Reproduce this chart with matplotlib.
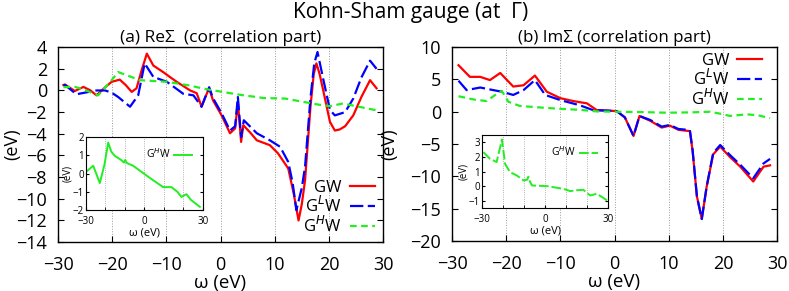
import numpy as np
import matplotlib
matplotlib.use('Agg')
import matplotlib.pyplot as plt

plt.rcParams['font.family'] = ['Open Sans', 'DejaVu Sans']
plt.rcParams['mathtext.fontset'] = 'dejavusans'

# ---- (a) Re Sigma ----
re_gw_w = [-29, -28.7, -26.9, -25.3, -24, -22.9, -21.5, -20.1, -18.6, -17.5, -16.4, -15.5,
           -14.6, -13.6, -12.4, -10.6, -8.1, -5.6, -4.4, -3.5, -2.8, -2.1, -1.4, 0.2, 1.75,
           2.7, 3.2, 3.8, 4.2, 5.5, 6.7, 9.1, 10.6, 12.5, 13.5, 14.4, 15.0, 15.6, 16.6, 17.2,
           17.7, 18.3, 19.0, 20.2, 21.1, 22.0, 23.0, 24.5, 26.0, 27.6, 28.8]
re_gw = [0.5, 0.55, -0.05, 0.33, 0.0, -0.45, 0.2, 0.8, 1.0, 0.5, -0.13, 0.2,
         1.8, 3.4, 2.3, 1.7, 0.8, 0.0, -0.25, -1.5, -0.6, 0.2, -0.9, -2.3, -3.95,
         -3.5, -1.05, -4.75, -3.2, -3.9, -4.6, -5.05, -5.8, -7.2, -9.5, -12.0, -10.5, -8.3, -1.5, 1.5,
         2.5, 1.5, -0.1, -2.9, -3.7, -3.6, -3.3, -2.3, -0.6, 0.95, 0.2]

re_gl_w = [-29, -28.7, -26.6, -22.9, -21.3, -20.1, -18.9, -16.7, -15.2, -14.0, -12.4, -9.9,
           -6.9, -5.0, -3.5, -2.1, -1.4, 0.2, 1.75, 2.7, 3.2, 3.8, 4.3, 6.7, 9.1, 11.0,
           12.5, 13.3, 14.0, 15.0, 15.6, 16.6, 17.3, 17.9, 19.0, 20.2, 21.1, 23.0, 24.5,
           26.0, 27.6, 28.8]
re_gl = [0.5, 0.5, -0.35, 0.0, 0.0, -0.2, -0.6, -1.5, -0.45, 2.5, 1.25, 0.8,
         -0.3, -0.45, -1.5, 0.3, -0.7, -2.1, -3.7, -3.3, -0.6, -4.3, -2.75, -3.95, -4.6, -5.2,
         -6.6, -8.5, -11.05, -9.0, -7.05, -0.7, 2.5, 3.55, 0.95, -1.8, -2.3, -2.0, -0.75,
         1.2, 2.75, 2.0]

re_gh_w = [-29, -27, -25.3, -22.6, -20.1, -18.9, -17, -14.9, -9.9, -5.6, -3, 0, 3.6, 8,
           12, 14.7, 18, 20.2, 22.6, 25, 29]
re_gh = [0.3, 0.35, 0.1, -0.45, 0.95, 1.7, 1.35, 0.95, 0.8, 0.45, 0.15, -0.1, -0.4, -0.7,
         -0.75, -1.0, -1.3, -1.45, -1.2, -1.45, -1.85]

# inset (a)
ins_a_w = [-29.7, -26.3, -22.9, -20.5, -18.6, -17, -15.2, -12, -10.5, -9.8, -9.2, -8.5, -5.8,
           1.0, 5, 9.6, 13.9, 17, 19.0, 21.6, 24, 28.5]
ins_a = [0.12, 0.43, -0.52, 0.5, 1.7, 1.2, 0.97, 0.75, 0.6, 0.75, 0.6, 0.55, 0.43,
         -0.1, -0.4, -0.74, -0.74, -1.0, -1.28, -1.13, -1.45, -1.82]

# ---- (b) Im Sigma ----
im_gw_w = [-28.8, -26.7, -24.8, -23.0, -21.1, -18.7, -16.8, -14.7, -12.5, -10.0, -7.6, -5.1,
           -3.3, -0.8, 0.4, 1.9, 3.5, 4.6, 6.6, 8.7, 10.2, 11.8, 13.9, 14.4, 15.2, 16.1,
           17.0, 18.2, 19.5, 21.3, 23.2, 25.6, 27.5, 28.7]
im_gw = [7.2, 5.4, 5.4, 4.9, 6.0, 3.9, 4.1, 5.6, 3.1, 2.1, 1.65, 1.3,
         0.26, 0.15, 0.1, -0.87, -3.75, -0.66, -1.4, -2.45, -2.15, -2.8, -3.0, -6.0, -13.1, -16.6,
         -11.6, -6.6, -5.4, -7.0, -8.5, -10.8, -8.5, -8.3]

im_gl_w = [-28.8, -27.3, -24.8, -22.4, -20.8, -18.7, -16.8, -14.7, -12.8, -10.0, -6.4, -4.0,
           -0.8, 0.4, 1.9, 3.5, 4.6, 6.6, 8.7, 10.2, 11.8, 13.9, 14.4, 15.2, 16.1,
           17.0, 18.2, 19.5, 21.3, 23.2, 25.6, 27.5, 28.7]
im_gl = [4.8, 3.35, 3.75, 3.35, 3.1, 2.6, 3.35, 4.9, 2.6, 1.8, 1.0, 0.26,
         0.15, 0.1, -0.87, -3.75, -0.66, -1.28, -2.3, -2.05, -2.67, -2.83, -5.9, -13.1, -16.6,
         -11.6, -6.4, -5.15, -6.7, -8.2, -10.3, -8.0, -7.3]

im_gh_w = [-28.8, -26.0, -23.6, -21.7, -20.8, -19.6, -17.5, -14.4, -9.5, -6.4, -3.3, 0, 5,
           9.6, 14, 17.6, 19.5, 21.3, 24.4, 26.5, 28.7]
im_gh = [2.4, 1.9, 1.65, 2.8, 3.2, 1.55, 0.9, 0.7, 0.42, 0.3, 0.05, 0.0, -0.05,
         -0.15, -0.1, 0.0, -0.3, -0.65, -0.4, -0.55, -1.0]

# inset (b)
ins_b_w = [-29.4, -26.3, -23.1, -21.4, -20.6, -19.0, -16.7, -13.5, -10.3, -8.5, -8.0, -7.2,
           -6.3, 0.8, 8.6, 11.9, 15, 18.1, 21.4, 24.5, 26.5, 29.4]
ins_b = [2.33, 1.88, 1.65, 2.67, 3.2, 1.5, 0.96, 0.73, 0.39, 0.45, 0.65, 0.3,
         0.05, 0.0, -0.18, -0.34, -0.28, -0.25, -0.64, -0.52, -0.7, -0.98]

red = '#ff0000'
blue = '#0000ff'
green = '#22ee22'
blue_dash = (6, 2)
green_dash = (3, 2)

fig = plt.figure(figsize=(7.89, 2.91), dpi=100)
fig.text(0.52, 0.958, 'Kohn-Sham gauge (at  Γ)', ha='center', va='center', fontsize=15)

ax1 = fig.add_axes([0.0735, 0.168, 0.412, 0.670])
ax2 = fig.add_axes([0.5729, 0.172, 0.412, 0.666])

ax1.plot(re_gw_w, re_gw, color=red, lw=1.6, label='GW')
ax1.plot(re_gl_w, re_gl, color=blue, lw=1.6, dashes=blue_dash, label='G$^{L}$W')
ax1.plot(re_gh_w, re_gh, color=green, lw=1.6, dashes=green_dash, label='G$^{H}$W')
ax1.set_ylim(-14, 4)
ax1.set_yticks(np.arange(-14, 5, 2))
ax1.set_title('(a) ReΣ  (correlation part)', fontsize=12.5, pad=4)

ax2.plot(im_gw_w, im_gw, color=red, lw=1.6, label='GW')
ax2.plot(im_gl_w, im_gl, color=blue, lw=1.6, dashes=blue_dash, label='G$^{L}$W')
ax2.plot(im_gh_w, im_gh, color=green, lw=1.6, dashes=green_dash, label='G$^{H}$W')
ax2.set_ylim(-20, 10)
ax2.set_yticks(np.arange(-20, 11, 5))
ax2.set_title('(b) ImΣ (correlation part)', fontsize=12.2, pad=4)

for ax in (ax1, ax2):
    ax.set_xlim(-30, 30)
    ax.set_xticks(np.arange(-30, 31, 10))
    ax.xaxis.grid(True, color='#999999', linestyle=':', lw=0.7)
    ax.tick_params(direction='in', labelsize=13, length=4, right=True, top=False, width=0.8)
    ax.tick_params(axis='x', pad=10)
    ax.tick_params(axis='y', pad=8)
    ax.set_xlabel('ω (eV)', fontsize=13.5, labelpad=0)
    for s in ax.spines.values():
        s.set_linewidth(1.0)

ax1.set_ylabel('(eV)', fontsize=13)
ax1.yaxis.set_label_coords(-0.112, 0.5)
ax2.set_ylabel('(eV)', fontsize=13)
ax2.yaxis.set_label_coords(-0.165, 0.5)

leg_kw = dict(markerfirst=False, frameon=False, fontsize=12, handlelength=1.5,
              handletextpad=0.5, labelspacing=0.0, borderaxespad=0.0, borderpad=0.0)
ax1.legend(loc='lower right', bbox_to_anchor=(0.975, 0.03), **leg_kw)
ax2.legend(loc='upper right', bbox_to_anchor=(0.955, 0.97), **leg_kw)

# insets
axa = fig.add_axes([0.109, 0.278, 0.148, 0.251])
axa.plot(ins_a_w, ins_a, color=green, lw=1.4, label='G$^{H}$W')
axa.set_ylim(-2, 2)
axa.set_yticks([-2, -1, 0, 1, 2])

axb = fig.add_axes([0.611, 0.285, 0.160, 0.251])
axb.plot(ins_b_w, ins_b, color=green, lw=1.4, dashes=(5, 1.5), label='G$^{H}$W')
axb.set_ylim(-1.5, 3.5)
axb.set_yticks([-1, 0, 1, 2, 3])

for ax in (axa, axb):
    ax.set_xlim(-30, 30)
    ax.set_xticks([-30, 0, 30])
    ax.set_xticks([-20, -10, 10, 20], minor=True)
    ax.xaxis.grid(True, which='both', color='#999999', linestyle=':', lw=0.6)
    ax.tick_params(which='both', direction='in', labelsize=7, length=2, pad=1.5, right=True)
    ax.tick_params(axis='x', pad=4.5)
    ax.set_xlabel('ω (eV)', fontsize=8, labelpad=0)
    ax.set_ylabel('(eV)', fontsize=7, labelpad=0)
    ax.legend(loc='upper right', markerfirst=False, frameon=False, fontsize=7.5,
              handlelength=1.8, handletextpad=0.3, borderaxespad=0.6)

fig.savefig('out.png', dpi=100)
